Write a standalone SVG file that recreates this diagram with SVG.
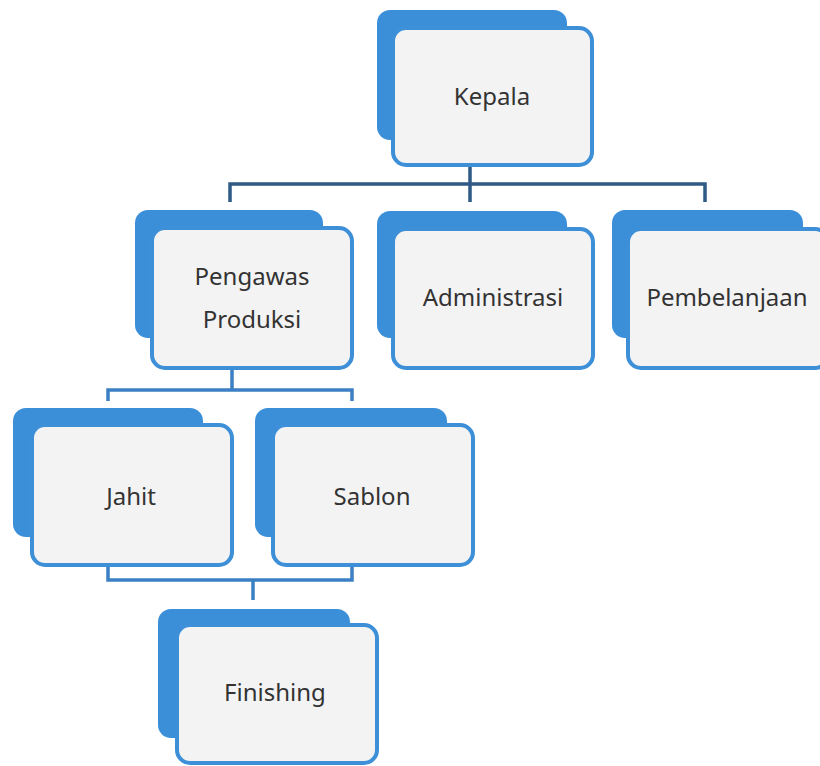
<svg xmlns="http://www.w3.org/2000/svg" width="820" height="766" viewBox="0 0 820 766">
  <style>
    .back { fill: #3b8fd9; }
    .front { fill: #f3f3f3; stroke: #3d8fd8; stroke-width: 4; }
    .lbl { font-family: "Noto Sans", "Open Sans", sans-serif; font-size: 24px; fill: #333333; text-anchor: middle; }
    .conTop { fill: none; stroke: #2f5a85; stroke-width: 3.5; }
    .conLow { fill: none; stroke: #3b80c4; stroke-width: 3.5; }
  </style>
  <rect width="820" height="766" fill="#ffffff"/>

  <g id="connectors">
    <path class="conTop" d="M470,165 V202 M230,202 V184 H705 V202"/>
    <path class="conLow" d="M232,368 V390 M108,401 V390 H352 V401"/>
    <path class="conLow" d="M108,565 V580 H352 V565 M253,580 V600"/>
  </g>

  <g id="kepala">
    <rect class="back" x="377" y="10" width="190" height="130" rx="13"/>
    <rect class="front" x="393" y="28" width="199" height="137" rx="13"/>
    <text class="lbl" x="492" y="105">Kepala</text>
  </g>

  <g id="pengawas-produksi">
    <rect class="back" x="135" y="210" width="188" height="128" rx="13"/>
    <rect class="front" x="152" y="228" width="200" height="140" rx="13"/>
    <text class="lbl" x="252" y="285">Pengawas</text>
    <text class="lbl" x="252" y="328">Produksi</text>
  </g>

  <g id="administrasi">
    <rect class="back" x="377" y="211" width="190" height="127" rx="13"/>
    <rect class="front" x="393" y="229" width="200" height="139" rx="13"/>
    <text class="lbl" x="493" y="306">Administrasi</text>
  </g>

  <g id="pembelanjaan">
    <rect class="back" x="612" y="210" width="191" height="128" rx="13"/>
    <rect class="front" x="628" y="229" width="200" height="139" rx="13"/>
    <text class="lbl" x="727" y="306">Pembelanjaan</text>
  </g>

  <g id="jahit">
    <rect class="back" x="13" y="408" width="190" height="129" rx="13"/>
    <rect class="front" x="32" y="425" width="200" height="140" rx="13"/>
    <text class="lbl" x="131" y="505">Jahit</text>
  </g>

  <g id="sablon">
    <rect class="back" x="255" y="408" width="192" height="129" rx="13"/>
    <rect class="front" x="273" y="425" width="200" height="140" rx="13"/>
    <text class="lbl" x="372" y="505">Sablon</text>
  </g>

  <g id="finishing">
    <rect class="back" x="158" y="609" width="192" height="129" rx="13"/>
    <rect class="front" x="177" y="625" width="200" height="138" rx="13"/>
    <text class="lbl" x="275" y="701">Finishing</text>
  </g>
</svg>
